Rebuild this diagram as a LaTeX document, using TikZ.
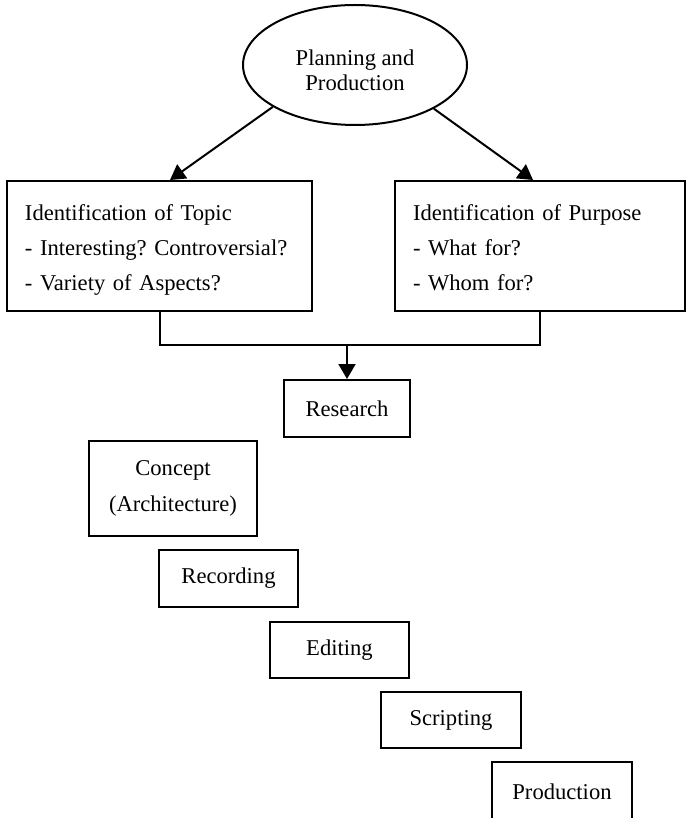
\documentclass[tikz,border=0pt]{standalone}
\usepackage{fontspec}
\setmainfont{Liberation Serif}
\usetikzlibrary{arrows.meta,shapes.geometric}
\frenchspacing
\begin{document}
\begin{tikzpicture}[x=0.5pt,y=-0.5pt,
  every node/.style={font=\fontsize{11.3}{17.5}\selectfont},
  box/.style={draw, line width=1pt, rectangle, inner sep=0pt, align=center},
  listbox/.style={draw, line width=1pt, rectangle, inner xsep=9pt, inner ysep=0pt, align=left,
                  text height=12.4pt, text depth=37.5pt},
  conn/.style={line width=1pt},
  arr/.style={line width=1pt, -{Triangle[width=8.5pt,length=7.5pt]}}]
\useasboundingbox (0,0) rectangle (687,818);
\clip (0,0) rectangle (687,818);

% top ellipse
\node[draw, ellipse, line width=1pt, minimum width=112pt, minimum height=60pt, inner sep=0pt,
      align=center, text height=25.4pt, text depth=0pt,
      font=\fontsize{11.3}{12.5}\selectfont] (plan) at (355,65)
  {Planning and\\Production};

% the two identification boxes
\node[listbox, minimum width=152.5pt, minimum height=65pt, text width=134.5pt] (topic) at (159.5,246)
  {Identification of Topic\\- Interesting? Controversial?\\- Variety of Aspects?};
\node[listbox, minimum width=145pt, minimum height=65pt, text width=127pt] (purpose) at (540,246)
  {Identification of Purpose\\- What for?\\- Whom for?};

\draw[arr] (plan.207.7) -- ([xshift=5.25pt]topic.north);
\draw[arr] (plan.331.4) -- ([xshift=-3.5pt]purpose.north);

% staircase of steps
\node[box, minimum width=63pt, minimum height=28.5pt] (research) at (347,408.5) {Research};
\node[box, minimum width=84pt, minimum height=47.5pt, font=\fontsize{11.3}{18}\selectfont] (concept) at (173,488) {Concept\\(Architecture)};
\node[box, minimum width=69.5pt, minimum height=28.5pt] (recording) at (228.5,578.5) {Recording};
\node[box, minimum width=69.5pt, minimum height=28pt] (editing) at (339.5,650) {Editing};
\node[box, minimum width=70pt, minimum height=28pt] (scripting) at (451,720) {Scripting};
% last step runs past the lower edge of the page
\node[box, minimum width=70pt, minimum height=30pt] (production) at (562,792) {Production};

% joining both boxes into the research step
\coordinate (join) at (347,345);
\draw[conn] (topic.south) |- (join) -| (purpose.south);
\draw[arr] (join) -- (research.north);
\end{tikzpicture}
\end{document}
